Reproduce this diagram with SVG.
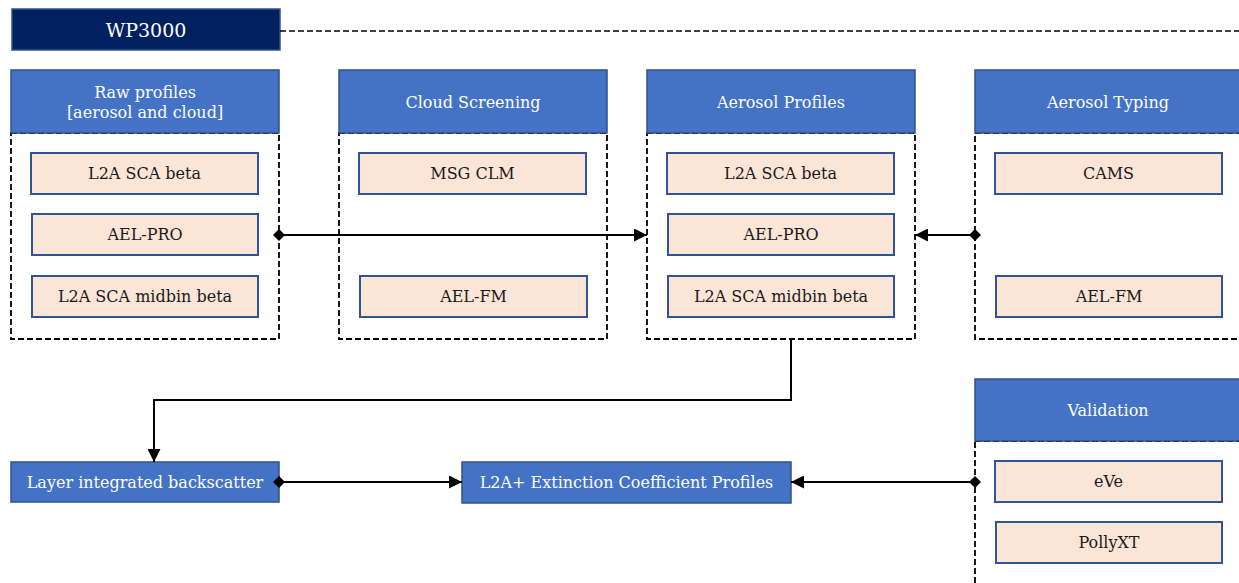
<svg xmlns="http://www.w3.org/2000/svg" width="1239" height="583" viewBox="0 0 1239 583">
<style>
text{font-family:"DejaVu Serif","Liberation Serif",serif;font-size:16px;text-anchor:middle;dominant-baseline:central}
.hdr{fill:#4472C4;stroke:#2F528F;stroke-width:1.5}
.hdr-t{fill:#fff}
.item{fill:#FBE5D6;stroke:#2F5597;stroke-width:2}
.item-t{fill:#1a1a1a;font-size:16px}
.cont{fill:none;stroke:#000;stroke-width:1.8;stroke-dasharray:6 3}
.conn{fill:none;stroke:#000;stroke-width:2}
</style>
<defs>
<marker id="arrow" viewBox="0 0 13 13" refX="13" refY="6.5" markerWidth="13" markerHeight="13" orient="auto" markerUnits="userSpaceOnUse">
<path d="M0,0 L13,6.5 L0,13 Z" fill="#000"/>
</marker>
<marker id="dia" viewBox="0 0 12 12" refX="6" refY="6" markerWidth="12" markerHeight="12" orient="auto" markerUnits="userSpaceOnUse">
<path d="M0,6 L6,0 L12,6 L6,12 Z" fill="#000"/>
</marker>
</defs>

<g id="wp3000">
<rect x="12" y="9" width="268" height="41" fill="#002060" stroke="#2F528F" stroke-width="1.5"/>
<text x="146" y="30" fill="#fff" style="font-size:19px">WP3000</text>
<path d="M280,31 H1239" stroke="#000" stroke-width="1.6" stroke-dasharray="6 3" fill="none"/>
</g>

<g id="raw-profiles">
<rect class="cont" x="11" y="133" width="268" height="206"/>
<rect class="hdr" x="11" y="70" width="268" height="63"/>
<text class="hdr-t" x="145" y="92">Raw profiles</text>
<text class="hdr-t" x="145" y="112">[aerosol and cloud]</text>
<g id="raw-l2a-beta"><rect class="item" x="31" y="153" width="227" height="41"/><text class="item-t" x="144.5" y="173">L2A SCA beta</text></g>
<g id="raw-ael-pro"><rect class="item" x="32" y="214" width="226" height="41"/><text class="item-t" x="145" y="234">AEL-PRO</text></g>
<g id="raw-midbin"><rect class="item" x="32" y="276" width="226" height="41"/><text class="item-t" x="145" y="296">L2A SCA midbin beta</text></g>
</g>

<g id="cloud-screening">
<rect class="cont" x="339" y="133" width="268" height="206"/>
<rect class="hdr" x="339" y="70" width="268" height="63"/>
<text class="hdr-t" x="473" y="102">Cloud Screening</text>
<g id="cs-msg-clm"><rect class="item" x="359" y="153" width="227" height="41"/><text class="item-t" x="472.5" y="173">MSG CLM</text></g>
<g id="cs-ael-fm"><rect class="item" x="360" y="276" width="227" height="41"/><text class="item-t" x="473.5" y="296">AEL-FM</text></g>
</g>

<g id="aerosol-profiles">
<rect class="cont" x="647" y="133" width="268" height="206"/>
<rect class="hdr" x="647" y="70" width="268" height="63"/>
<text class="hdr-t" x="781" y="102">Aerosol Profiles</text>
<g id="ap-l2a-beta"><rect class="item" x="667" y="153" width="227" height="41"/><text class="item-t" x="780.5" y="173">L2A SCA beta</text></g>
<g id="ap-ael-pro"><rect class="item" x="668" y="214" width="226" height="41"/><text class="item-t" x="781" y="234">AEL-PRO</text></g>
<g id="ap-midbin"><rect class="item" x="668" y="276" width="226" height="41"/><text class="item-t" x="781" y="296">L2A SCA midbin beta</text></g>
</g>

<g id="aerosol-typing">
<rect class="cont" x="975" y="133" width="280" height="206"/>
<rect class="hdr" x="975" y="70" width="280" height="63"/>
<text class="hdr-t" x="1108" y="102">Aerosol Typing</text>
<g id="at-cams"><rect class="item" x="995" y="153" width="227" height="41"/><text class="item-t" x="1108.5" y="173">CAMS</text></g>
<g id="at-ael-fm"><rect class="item" x="996" y="276" width="226" height="41"/><text class="item-t" x="1109" y="296">AEL-FM</text></g>
</g>

<g id="validation">
<rect class="cont" x="975" y="441" width="280" height="160"/>
<rect class="hdr" x="975" y="379" width="280" height="62"/>
<text class="hdr-t" x="1108" y="410">Validation</text>
<g id="val-eve"><rect class="item" x="995" y="461" width="227" height="41"/><text class="item-t" x="1108.5" y="481">eVe</text></g>
<g id="val-pollyxt"><rect class="item" x="996" y="522" width="226" height="41"/><text class="item-t" x="1109" y="542">PollyXT</text></g>
</g>

<g id="layer-integrated-backscatter">
<rect class="hdr" x="11" y="462" width="268" height="40"/>
<text class="hdr-t" x="145" y="482">Layer integrated backscatter</text>
</g>

<g id="l2a-extinction">
<rect class="hdr" x="462" y="462" width="329" height="41"/>
<text class="hdr-t" x="626.5" y="482">L2A+ Extinction Coefficient Profiles</text>
</g>

<g id="connectors">
<path class="conn" d="M279,235 H647" marker-start="url(#dia)" marker-end="url(#arrow)"/>
<path class="conn" d="M975,235 H915" marker-start="url(#dia)" marker-end="url(#arrow)"/>
<path class="conn" d="M791,339 V400 H154 V462" marker-end="url(#arrow)"/>
<path class="conn" d="M279,482 H462" marker-start="url(#dia)" marker-end="url(#arrow)"/>
<path class="conn" d="M975,482 H791" marker-start="url(#dia)" marker-end="url(#arrow)"/>
</g>
</svg>
